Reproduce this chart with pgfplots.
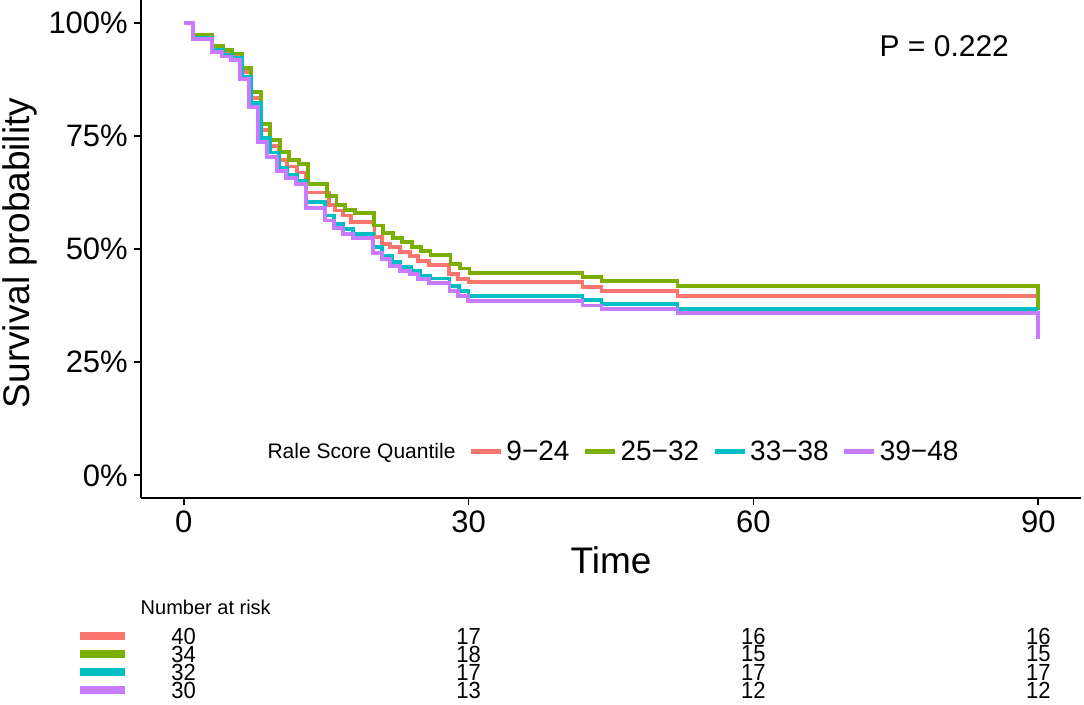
\documentclass[border=0pt]{standalone}
\usepackage{fontspec}
\setmainfont{Liberation Sans}
\usepackage{pgfplots}
\usepackage{pgfplotstable}
\pgfplotsset{compat=1.18}
\definecolor{cR}{HTML}{F8766D}
\definecolor{cG}{HTML}{7CAE00}
\definecolor{cC}{HTML}{00BFC4}
\definecolor{cP}{HTML}{C77CFF}

\pgfplotstableread{
t s
0 1
1 0.969
3 0.944
4.1 0.935
5.1 0.927
6.1 0.891
7.1 0.834
8.1 0.762
9.1 0.728
10 0.696
10.9 0.682
11.9 0.669
12.9 0.625
15.3 0.597
15.9 0.585
16.8 0.574
17.6 0.560
20.1 0.526
20.9 0.511
21.7 0.504
22.8 0.493
23.8 0.485
24.7 0.474
25.8 0.465
27.9 0.445
28.9 0.434
30 0.427
42 0.416
44 0.407
52 0.397
90 0.397
}\tabR

\pgfplotstableread{
t s
0 1
1 0.972
3 0.949
4.1 0.940
5.1 0.932
6.1 0.899
7.1 0.846
8.1 0.776
9.1 0.741
10.1 0.714
11.1 0.696
12.1 0.688
13.1 0.643
15.1 0.617
16.1 0.597
17 0.587
18 0.580
20 0.552
21 0.535
22 0.524
23 0.515
24 0.505
25 0.496
26 0.487
28.1 0.467
29.1 0.457
30.1 0.447
42 0.438
44 0.430
52 0.419
90 0.365
}\tabG

\pgfplotstableread{
t s
0 1
1 0.966
3 0.940
4.1 0.929
5.1 0.922
6.1 0.881
7.1 0.822
8.1 0.746
9.1 0.713
10 0.680
10.9 0.663
11.9 0.651
12.9 0.603
14.9 0.574
15.8 0.555
16.8 0.544
17.8 0.533
19.9 0.504
20.9 0.485
21.9 0.471
22.8 0.460
23.9 0.452
24.9 0.441
26 0.435
28 0.419
29 0.408
30 0.397
42 0.388
44 0.379
52 0.368
90 0.368
}\tabC

\pgfplotstableread{
t s
0 1
1 0.963
3 0.936
4 0.925
5 0.918
5.9 0.875
6.9 0.813
7.85 0.736
8.8 0.703
9.8 0.673
10.8 0.657
11.8 0.643
12.9 0.590
14.9 0.563
15.8 0.546
16.8 0.533
17.8 0.524
19.9 0.491
20.85 0.478
21.7 0.463
22.8 0.452
23.8 0.445
24.7 0.434
25.8 0.425
28 0.408
28.9 0.397
29.9 0.386
42 0.375
44 0.368
52 0.358
90 0.302
}\tabP

\begin{document}
\begin{tikzpicture}
\path[use as bounding box] (0,0) rectangle (1084pt,704pt);
\begin{axis}[
  at={(141pt,206pt)}, anchor=south west,
  scale only axis, width=940pt, height=498pt,
  xmin=-4.5, xmax=94.5, ymin=-0.05, ymax=1.05,
  axis x line*=bottom, axis y line*=left,
  axis line style={line width=1.8pt, -},
  xtick={0,30,60,90}, ytick={0,0.25,0.5,0.75,1},
  yticklabels={0\%,25\%,50\%,75\%,100\%},
  tick align=outside, major tick length=7pt,
  tick style={line width=1.8pt, black},
  minor tick num=0,
  /pgf/number format/assume math mode=true,
  ticklabel style={font=\fontsize{31}{31}\selectfont},
  xticklabel style={inner sep=0pt, yshift=-6pt},
  yticklabel style={inner sep=0pt, xshift=-6pt},
  xlabel={Time}, ylabel={Survival probability},
  label style={font=\fontsize{37}{37}\selectfont},
  xlabel style={at={(axis description cs:0.5,-0.1245)}, anchor=center},
  ylabel style={at={(axis description cs:-0.1287,0.492)}, anchor=center},
  clip=false,
  legend style={draw=none, fill=none, at={(0.5016,0.094)}, anchor=center,
    legend columns=-1, font=\fontsize{28}{28}\selectfont,
    /tikz/every odd column/.append style={column sep=1pt},
    /tikz/every even column/.append style={column sep=11pt}},
  legend image code/.code={\draw[#1, line width=5pt] (0pt,0pt) -- (30pt,0pt);},
]
\addlegendimage{empty legend}
\addplot[cR, line width=3.8pt, const plot] table[x=t,y=s] {\tabR};
\addplot[cG, line width=3.8pt, const plot] table[x=t,y=s] {\tabG};
\addplot[cC, line width=3.8pt, const plot] table[x=t,y=s] {\tabC};
\addplot[cP, line width=3.8pt, const plot] table[x=t,y=s] {\tabP};
\legend{{\fontsize{21}{21}\selectfont Rale Score Quantile}, 9−24, 25−32, 33−38, 39−48}
\node[font=\fontsize{30}{30}\selectfont] at (axis cs:80.1,0.948) {P = 0.222};
\end{axis}
\begin{axis}[
  at={(141pt,5pt)}, anchor=south west,
  scale only axis, width=940pt, height=72pt,
  xmin=-4.5, xmax=94.5, ymin=0.5, ymax=4.5,
  hide axis, clip=false,
]
\addplot[cR, line width=8pt] coordinates {(-10.9,4) (-6.2,4)};
\addplot[cG, line width=8pt] coordinates {(-10.9,3) (-6.2,3)};
\addplot[cC, line width=8pt] coordinates {(-10.9,2) (-6.2,2)};
\addplot[cP, line width=8pt] coordinates {(-10.9,1) (-6.2,1)};
\addplot[draw=none, no markers, nodes near coords={\scalebox{1}[1.06]{\pgfplotspointmeta}}, point meta=explicit symbolic,
  nodes near coords align=center,
  every node near coord/.append style={font=\fontsize{22}{22}\selectfont, inner sep=0pt, anchor=center}]
  coordinates {
  (0,4) [40] (30,4) [17] (60,4) [16] (90,4) [16]
  (0,3) [34] (30,3) [18] (60,3) [15] (90,3) [15]
  (0,2) [32] (30,2) [17] (60,2) [17] (90,2) [17]
  (0,1) [30] (30,1) [13] (60,1) [12] (90,1) [12]
  };
\node[anchor=west, font=\fontsize{20}{20}\selectfont] at (axis cs:-4.9,5.61) {Number at risk};
\end{axis}
\end{tikzpicture}
\end{document}
